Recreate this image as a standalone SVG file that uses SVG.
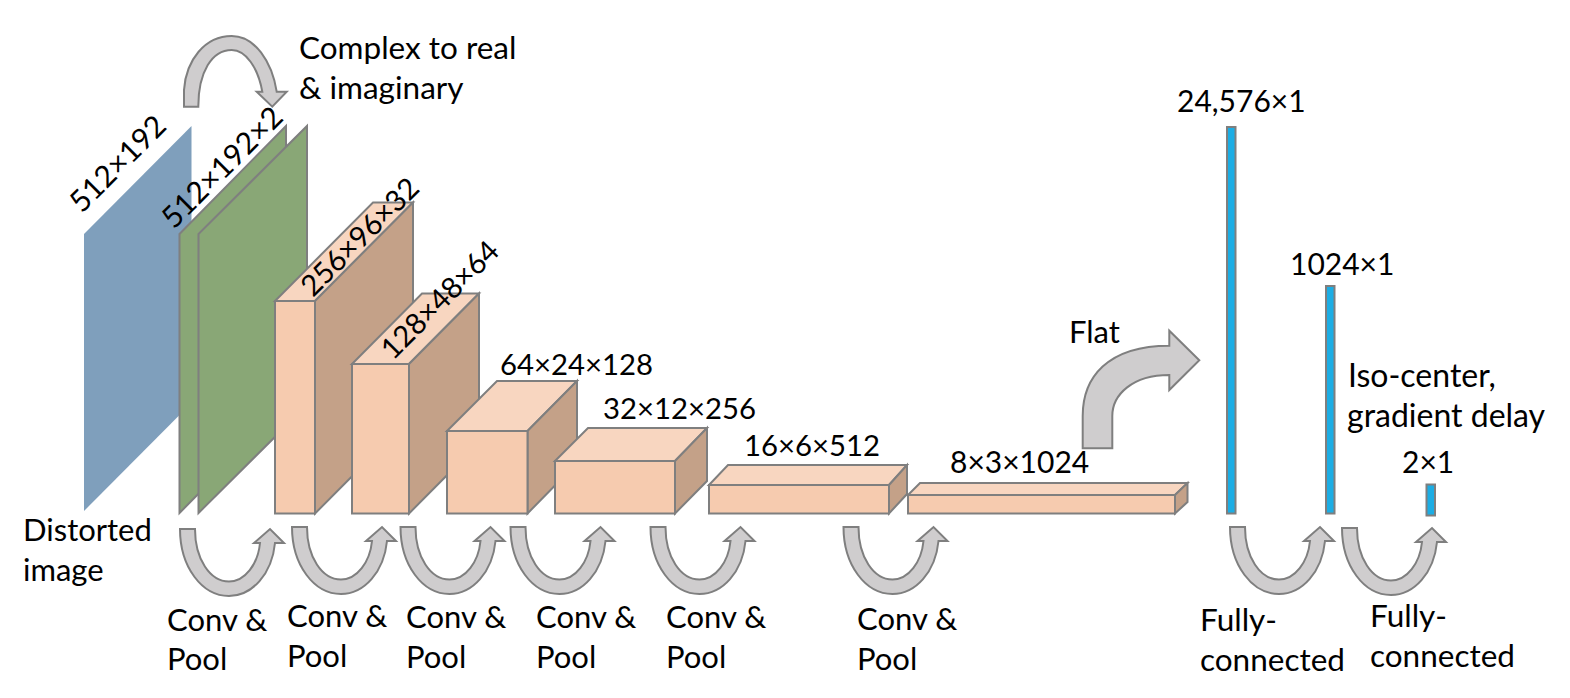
<svg xmlns="http://www.w3.org/2000/svg" width="1570" height="698" viewBox="0 0 1570 698">
<style>
text{font-family:"Lato","Liberation Sans",sans-serif;font-size:30px;fill:#000}
text.w{font-size:31.500px}
text.i{font-size:32px}
text.c{font-size:31px}
text.n{font-size:29.300px}
.s{stroke:#7f7f7f;stroke-width:2;stroke-linejoin:miter}
.g{fill:#89a776}.f{fill:#f6cbaf}.t{fill:#f8d6c0}.d{fill:#c4a188}.b{fill:#1cade4}
.a{fill:#cfcdce;stroke:#7f7f7f;stroke-width:2}
</style>
<defs>
<path id="u" class="a" d="M0,0H15C15,30 30,52.500 49,52.500C65,52.500 78,35 80,14H74L90,0L104,14H95C92,45 72,67 49,67C22,67 0,38 0,0Z"/>
</defs>
<rect width="1570" height="698" fill="#fff"/>
<g id="input"><polygon points="84,234 191.500,126 191.500,403 84,511" fill="#7f9fbc"/></g>
<g id="complex1"><polygon class="s g" points="179.500,234 286,126 286,405 179.500,513"/></g>
<g id="complex2"><polygon class="s g" points="198.500,234 307,126 307,405 198.500,513"/></g>
<g id="block1"><polygon class="s t" points="275,301 373,202.500 413,202.500 315,301"/><polygon class="s d" points="315,301 413,202.500 413,415 315,513.500"/><rect class="s f" x="275" y="301" width="40" height="212.500"/></g>
<g id="block2"><polygon class="s t" points="352,364 422,293.500 479,293.500 409,364"/><polygon class="s d" points="409,364 479,293.500 479,443 409,513.500"/><rect class="s f" x="352" y="364" width="57" height="149.500"/></g>
<g id="block3"><polygon class="s t" points="447,431 497,381 577,381 527.500,431"/><polygon class="s d" points="527.500,431 577,381 577,463 527.500,513.500"/><rect class="s f" x="447" y="431" width="80.500" height="82.500"/></g>
<g id="block4"><polygon class="s t" points="555,461 588,428 707,428 675,461"/><polygon class="s d" points="675,461 707,428 707,481 675,513.500"/><rect class="s f" x="555" y="461" width="120" height="52.500"/></g>
<g id="block5"><polygon class="s t" points="709,485 728,465 907,465 889,485"/><polygon class="s d" points="889,485 907,465 907,494 889,513.500"/><rect class="s f" x="709" y="485" width="180" height="28.500"/></g>
<g id="block6"><polygon class="s t" points="908,495 920,483 1187.500,483 1175,495"/><polygon class="s d" points="1175,495 1187.500,483 1187.500,502 1175,513.500"/><rect class="s f" x="908" y="495" width="267" height="18.500"/></g>
<g id="fc1"><rect class="s b" x="1227" y="127" width="8.500" height="386.500"/></g>
<g id="fc2"><rect class="s b" x="1326" y="286" width="8.500" height="227.500"/></g>
<g id="fc3"><rect class="s b" x="1426.500" y="484.500" width="8.500" height="31"/></g>
<g id="connectors">
<path class="a" d="M184,106.700V90C186,60 205,36 231.700,36C255,36 272,62 276.700,91.700H286.700L272.300,106.700L256.700,91.700H262.300C258,68 246,50 231.700,50C212,50 198.300,72 198.300,106.700Z"/>
<path class="a" d="M1082.700,448.300V416C1082.700,378 1107,345.700 1169.300,345.700V330.700L1199.300,360.300L1169.300,390V375C1132,375 1112.300,395 1112.300,416V448.300Z"/>
<use href="#u" x="180" y="529"/>
<use href="#u" x="292" y="527"/>
<use href="#u" x="400.500" y="527"/>
<use href="#u" x="510.500" y="527"/>
<use href="#u" x="650.500" y="527"/>
<use href="#u" x="843.500" y="527"/>
<use href="#u" x="1230" y="527"/>
<use href="#u" x="1342" y="528"/>
</g>
<g id="labels">
<text class="w" x="299" y="59">Complex to real</text>
<text class="w" x="299" y="99">&amp; imaginary</text>
<text transform="translate(82,214) rotate(-45)">512×192</text>
<text transform="translate(174,230) rotate(-45)">512×192×2</text>
<text class="n" transform="translate(313,298) rotate(-45)">256×96×32</text>
<text class="n" transform="translate(393,361) rotate(-45)">128×48×64</text>
<text class="n" x="500" y="375">64×24×128</text>
<text class="n" x="603" y="419">32×12×256</text>
<text class="n" x="744" y="456">16×6×512</text>
<text x="950" y="473">8×3×1024</text>
<text x="1177" y="112">24,576×1</text>
<text x="1290" y="275">1024×1</text>
<text class="c" x="1069" y="343">Flat</text>
<text class="i" x="1348" y="387">Iso-center,</text>
<text class="i" x="1347" y="427">gradient delay</text>
<text x="1402" y="473">2×1</text>
<text class="c" x="23" y="541">Distorted</text>
<text class="c" x="23" y="581">image</text>
<text class="c" x="167" y="631">Conv &amp;</text><text class="c" x="167" y="670">Pool</text>
<text class="c" x="287" y="627">Conv &amp;</text><text class="c" x="287" y="667">Pool</text>
<text class="c" x="406" y="628">Conv &amp;</text><text class="c" x="406" y="668">Pool</text>
<text class="c" x="536" y="628">Conv &amp;</text><text class="c" x="536" y="668">Pool</text>
<text class="c" x="666" y="628">Conv &amp;</text><text class="c" x="666" y="668">Pool</text>
<text class="c" x="857" y="630">Conv &amp;</text><text class="c" x="857" y="670">Pool</text>
<text class="w" x="1200" y="631">Fully-</text><text class="w" x="1200" y="671">connected</text>
<text class="w" x="1370" y="627">Fully-</text><text class="w" x="1370" y="667">connected</text>
</g>
</svg>
